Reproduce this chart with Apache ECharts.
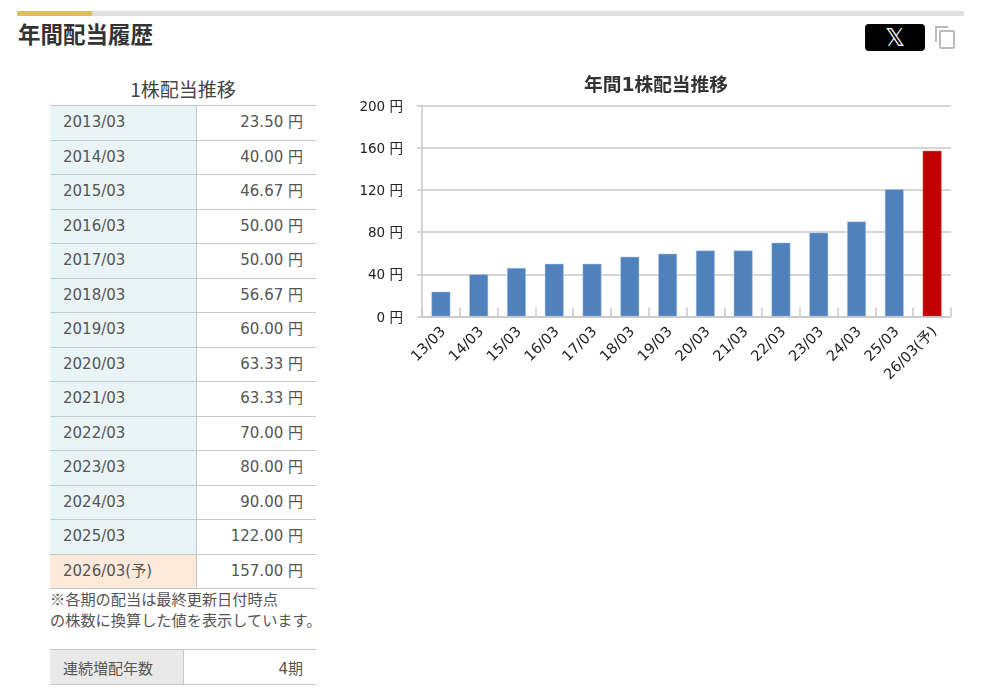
<!DOCTYPE html>
<html lang="ja">
<head>
<meta charset="utf-8">
<title>年間配当履歴</title>
<script src="https://cdn.jsdelivr.net/npm/echarts@6/dist/echarts.min.js"></script>
<style>
html,body{margin:0;padding:0;background:#fff;width:994px;height:691px;overflow:hidden}
body{position:relative;font-family:"DejaVu Sans","Noto Sans CJK JP",sans-serif;color:#555}
.abs{position:absolute}
#rule{left:17px;top:11px;width:947px;height:5px;background:#e0e0e0}
#ruleGold{left:17px;top:11px;width:75px;height:5px;background:#e0bf5a}
#heading{left:18px;top:18px;font:700 22.5px/30px "Noto Sans CJK JP",sans-serif;color:#333}
#xbtn{left:865px;top:24px;width:60px;height:27px;background:#000;border-radius:4px;color:#fff;text-align:center;font:400 25px/27px "DejaVu Sans",sans-serif}
#copy{left:934px;top:25px}
#tblTitle{left:50px;top:76px;width:266px;text-align:center;font:400 19px/26px "Noto Sans CJK JP",sans-serif;color:#444}
table{border-collapse:collapse;table-layout:fixed;font-size:15px}
#divTbl{left:50px;top:105px;width:266px}
#divTbl td{height:34.5px;padding:0;border-top:1px solid #c4c8c8;border-bottom:1px solid #c4c8c8;line-height:1}
td.k{width:146px;padding-left:13px!important;box-sizing:border-box;background:#e9f4f7;border-right:1px solid #c4c8c8}
td.k.f{background:#fde9da}
td.v{text-align:right;padding-right:13px!important;box-sizing:border-box;background:#fff}
#note{left:50px;top:588px;width:290px;font:400 15.2px/21px "Noto Sans CJK JP",sans-serif;color:#555}
#streak{left:50px;top:649px;width:266px}
#streak td{height:35px;padding:0;border-top:1px solid #c4c8c8;border-bottom:1px solid #c4c8c8}
#streak td.k{width:133px;background:#e9e9e9}
#chart{left:340px;top:60px;width:640px;height:340px}
</style>
</head>
<body>
<div class="abs" id="rule"></div>
<div class="abs" id="ruleGold"></div>
<div class="abs" id="heading">年間配当履歴</div>
<div class="abs" id="xbtn">𝕏</div>
<svg class="abs" id="copy" width="22" height="25" viewBox="0 0 22 25" fill="none" stroke="#bbb" stroke-width="2">
<path d="M2 17V2H14"/><rect x="6" y="6" width="14" height="17" rx="1"/>
</svg>
<div class="abs" id="tblTitle">1株配当推移</div>
<table class="abs" id="divTbl"><tbody id="divBody"></tbody></table>
<div class="abs" id="note">※各期の配当は最終更新日付時点<br>の株数に換算した値を表示しています。</div>
<table class="abs" id="streak"><tr><td class="k">連続増配年数</td><td class="v">4期</td></tr></table>
<div class="abs" id="chart"></div>
<script>
const fiscalPeriods = ['2013/03','2014/03','2015/03','2016/03','2017/03','2018/03','2019/03','2020/03','2021/03','2022/03','2023/03','2024/03','2025/03','2026/03(予)'];
const dividendLabels = ['23.50','40.00','46.67','50.00','50.00','56.67','60.00','63.33','63.33','70.00','80.00','90.00','122.00','157.00'];
const chartCategories = ['13/03','14/03','15/03','16/03','17/03','18/03','19/03','20/03','21/03','22/03','23/03','24/03','25/03','26/03(予)'];
const chartValues = [23.5,40,46,50,50,56.67,59.5,62.5,62.5,70,79.5,90,120.5,157];
const chartTitle = '年間1株配当推移';
const yTicks = {min:0,max:200,interval:40};
const forecastIndex = 13;

document.getElementById('divBody').innerHTML = fiscalPeriods.map((p,i)=>
 `<tr><td class="k${i===forecastIndex?' f':''}">${p}</td><td class="v">${dividendLabels[i]} 円</td></tr>`).join('');

const chart = echarts.init(document.getElementById('chart'));
chart.setOption({
  animation:false,
  textStyle:{fontFamily:'"DejaVu Sans","Noto Sans CJK JP",sans-serif'},
  title:{text:chartTitle,left:311,top:12,textAlign:'center',textStyle:{fontSize:18.7,fontWeight:'bold',color:'#333',fontFamily:'"DejaVu Sans","Noto Sans CJK JP",sans-serif'}},
  grid:{left:82,right:29,top:45.5,height:211},
  xAxis:{type:'category',data:chartCategories,
    axisLine:{lineStyle:{color:'#c8c8c8',width:1.5}},
    axisTick:{show:true,inside:true,length:9,alignWithLabel:false,lineStyle:{color:'#c8c8c8',width:1.5}},
    axisLabel:{interval:0,rotate:45,fontSize:14.5,color:'#222',margin:16,padding:[0,-4,0,0]},
    z:3},
  yAxis:{type:'value',min:yTicks.min,max:yTicks.max,interval:yTicks.interval,
    axisLine:{show:true,lineStyle:{color:'#c8c8c8',width:1.5}},
    axisTick:{show:true,length:5,lineStyle:{color:'#c8c8c8',width:1.5}},
    axisLabel:{formatter:'{value} 円',fontSize:13.5,color:'#222',margin:19,verticalAlign:'top',lineHeight:3},
    splitLine:{lineStyle:{color:'#c8c8c8',width:1.5}}},
  series:[{type:'bar',barWidth:'50%',
    data:chartValues.map((v,i)=>i===forecastIndex
      ?{value:v,itemStyle:{color:'#c00000',borderColor:'#d8666a',borderWidth:0.5}}
      :{value:v,itemStyle:{color:'#4f81bd',borderColor:'#b9cde5',borderWidth:0.5}})}]
});
</script>
</body>
</html>
